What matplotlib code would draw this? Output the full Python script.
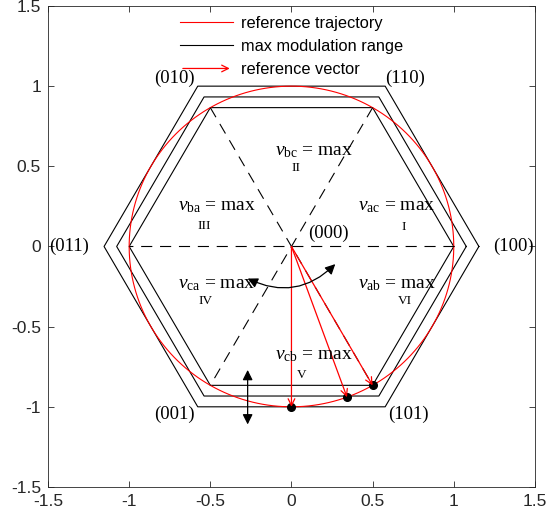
import numpy as np
import matplotlib.pyplot as plt
from matplotlib.patches import FancyArrowPatch
from matplotlib.legend_handler import HandlerBase
from matplotlib.lines import Line2D

# hexagon circumradii (outer = 2/sqrt(3), middle, inner = 1)
hex_radii = [2 / np.sqrt(3), 1.077, 1.0]
circle_radius = 1.0

# switching state labels at hexagon vertices (angle in degrees)
state_angles = [0, 60, 120, 180, 240, 300]
state_labels = ["(100)", "(110)", "(010)", "(011)", "(001)", "(101)"]
state_pos = [(1.37, 0.0), (0.7, 1.05), (-0.72, 1.05), (-1.37, 0.0), (-0.72, -1.05), (0.72, -1.05)]

# sector labels
sector_names = ["bc", "ba", "ac", "ca", "ab", "cb"]
sector_roman = ["II", "III", "I", "IV", "VI", "V"]
sector_pos = [(0.14, 0.59), (-0.46, 0.25), (0.65, 0.25), (-0.46, -0.24), (0.65, -0.24), (0.14, -0.68)]
roman_pos = [(0.03, 0.49), (-0.54, 0.13), (0.69, 0.12), (-0.53, -0.34), (0.7, -0.34), (0.06, -0.8)]

# reference vectors (angles in degrees, magnitude)
vec_angles = [-90, -70, -60]
vec_mags = [1.0, 1.0, 1.0]

plt.rcParams['font.family'] = ['Liberation Sans', 'DejaVu Sans']
plt.rcParams['mathtext.fontset'] = 'custom'
plt.rcParams['mathtext.rm'] = 'Liberation Serif'
plt.rcParams['mathtext.it'] = 'Liberation Serif:italic'
serif = 'Liberation Serif'

fig = plt.figure(figsize=(5.59, 5.20), dpi=100)
ax = fig.add_axes([0.0859, 0.0635, 0.871, 0.925])

# hexagons
for r in hex_radii:
    a = np.deg2rad(np.array(state_angles + [0]))
    ax.plot(r * np.cos(a), r * np.sin(a), color='k', lw=0.8)

# reference circle
t = np.linspace(0, 2 * np.pi, 400)
ax.plot(circle_radius * np.cos(t), circle_radius * np.sin(t), color='r', lw=0.8)

# sector dividers
for ang in [0, 60, 120]:
    a = np.deg2rad(ang)
    ax.plot([np.cos(a), -np.cos(a)], [np.sin(a), -np.sin(a)], color='k', lw=0.8,
            dashes=(10, 7))

# reference vectors
for ang, m in zip(vec_angles, vec_mags):
    a = np.deg2rad(ang)
    x, y = m * np.cos(a), m * np.sin(a)
    ax.annotate('', xy=(x, y), xytext=(0, 0),
                arrowprops=dict(arrowstyle='->', color='r', lw=0.9,
                                shrinkA=0, shrinkB=0, mutation_scale=12))
    ax.plot(x, y, 'o', color='k', ms=5.5)

# state labels
for (x, y), s in zip(state_pos, state_labels):
    ax.text(x, y, s, family=serif, fontsize=13.5, ha='center', va='center')
ax.text(0.23, 0.08, "(000)", family=serif, fontsize=13.5, ha='center', va='center')

# sector labels
for (x, y), n in zip(sector_pos, sector_names):
    ax.text(x, y, r"$v_{\mathrm{%s}}$" % n + " = max", family=serif, fontsize=14,
            ha='center', va='center')
for (x, y), s in zip(roman_pos, sector_roman):
    ax.text(x, y, s, family=serif, fontsize=9.5, ha='center', va='center')

# direction arrows
ax.annotate('', xy=(-0.27, -0.2), xytext=(0.27, -0.11),
            arrowprops=dict(arrowstyle='<|-|>', color='k', lw=0.9,
                            connectionstyle='arc3,rad=-0.35',
                            shrinkA=0, shrinkB=0, mutation_scale=15))
ax.annotate('', xy=(-0.27, -0.77), xytext=(-0.27, -1.11),
            arrowprops=dict(arrowstyle='<|-|>', color='k', lw=0.9,
                            shrinkA=0, shrinkB=0, mutation_scale=15))

ax.set_xlim(-1.5, 1.5)
ax.set_ylim(-1.5, 1.5)
ticks = [-1.5, -1, -0.5, 0, 0.5, 1, 1.5]
ax.set_xticks(ticks)
ax.set_yticks(ticks)
ax.set_xticklabels(["-1.5", "-1", "-0.5", "0", "0.5", "1", "1.5"])
ax.set_yticklabels(["-1.5", "-1", "-0.5", "0", "0.5", "1", "1.5"])
ax.tick_params(direction='in', top=True, right=True, labelsize=12.5,
               colors='#262626', length=4, width=0.6, pad=5)
for s in ax.spines.values():
    s.set_color('#262626')
    s.set_linewidth(0.6)


class ArrowHandler(HandlerBase):
    def create_artists(self, legend, orig, xd, yd, w, h, fontsize, trans):
        p = FancyArrowPatch((-xd, h / 2 - yd), (-xd + w, h / 2 - yd),
                            arrowstyle='->', color='r', lw=0.9,
                            mutation_scale=12, transform=trans)
        return [p]


h1 = Line2D([], [], color='r', lw=0.8)
h2 = Line2D([], [], color='k', lw=0.8)
h3 = FancyArrowPatch((0, 0), (1, 1))
ax.legend([h1, h2, h3], ["reference trajectory", "max modulation range", "reference vector"],
          handler_map={FancyArrowPatch: ArrowHandler()},
          loc='upper center', frameon=False, fontsize=11.8, handlelength=3.2,
          borderaxespad=0.2, labelspacing=0.5, handletextpad=0.5)

plt.savefig('out.png', dpi=100)
